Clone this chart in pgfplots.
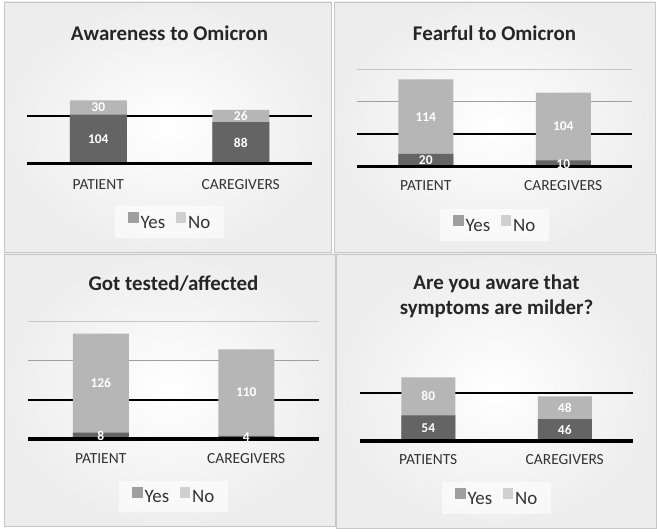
\documentclass[border=0pt]{standalone}
\usepackage{fontspec}
\setmainfont{Carlito}
\usepackage{pgfplots}
\pgfplotsset{compat=1.18}
\usepackage{pgfplotstable}

\definecolor{yescol}{RGB}{100,100,100}
\definecolor{nocol}{RGB}{182,182,182}
\definecolor{txt}{RGB}{51,51,51}

% x = category (0 patient, 1 caregivers), yes / no counts
\pgfplotstableread{
x yes no
0 104 30
1 88 26
}\aware
\pgfplotstableread{
x yes no
0 20 114
1 10 104
}\fear
\pgfplotstableread{
x yes no
0 8 126
1 4 110
}\tested
\pgfplotstableread{
x yes no
0 54 80
1 46 48
}\milder

\pgfplotsset{
  panel/.style={
    scale only axis, anchor=south west, clip=false,
    xmin=-0.5, xmax=1.5, ymin=0,
    axis line style={draw=none}, tick style={draw=none},
    xtick={0,1}, yticklabels={}, extra y tick labels={},
    xticklabel style={anchor=center, font=\fontsize{15.5}{17}\selectfont, text=txt},
    ymajorgrids, yminorgrids,
    major grid style={gray!75, line width=1.2bp},
    minor grid style={gray!45, line width=0.8bp},
    extra y tick style={grid=major, major grid style={black, line width=2bp}},
    title style={font=\fontsize{21}{25}\selectfont\bfseries, text=black!85, anchor=center, align=center},
    legend columns=2,
    legend style={anchor=center, draw=none, fill=white, fill opacity=0.6, text opacity=1,
      font=\fontsize{19}{21}\selectfont, text=txt, inner xsep=12bp, inner ysep=6bp,
      /tikz/every even column/.append style={column sep=7bp}},
    legend image code/.code={\fill[#1, draw=none] (1.5bp,0bp) rectangle (12bp,10.5bp);
      \path[draw=none, fill=none] (0bp,0bp) -- (12bp,0bp);},
  },
  nobar/.style={forget plot, ybar, bar shift=0pt, fill=nocol, draw=none},
  yesbar/.style={forget plot, ybar, bar shift=0pt, fill=yescol, draw=none},
  vals/.style={forget plot, only marks, mark=none, nodes near coords, point meta=explicit symbolic,
    every node near coord/.append style={anchor=center, text=white, font=\fontsize{13.5}{15}\selectfont\bfseries}},
}

\begin{document}
\begin{tikzpicture}
\useasboundingbox (0,0) rectangle (657bp,532bp);
\fill[white] (0,0) rectangle (657bp,532bp);
\shadedraw[shading=radial, inner color=white, outer color=gray!14, draw=gray!45] (4bp,280bp) rectangle (331bp,530bp);
\shadedraw[shading=radial, inner color=white, outer color=gray!14, draw=gray!45] (334bp,280bp) rectangle (655bp,530bp);
\shadedraw[shading=radial, inner color=white, outer color=gray!14, draw=gray!45] (4bp,6bp) rectangle (335bp,278bp);
\shadedraw[shading=radial, inner color=white, outer color=gray!14, draw=gray!45] (336bp,4bp) rectangle (656bp,278bp);

% Awareness to Omicron
\begin{axis}[panel, at={(27bp,368bp)}, width=285bp, height=95bp, ymax=200,
  ytick=\empty, minor ytick={200}, extra y ticks={100},
  xticklabels={PATIENT,CAREGIVERS}, xticklabel style={yshift=-21bp},
  title={Awareness to Omicron}, title style={at={(0.5,1.316)}},
  legend style={at={(0.5,-0.611)}}]
\addplot[nobar, bar width=57bp] table[x=x, y expr=\thisrow{yes}+\thisrow{no}] {\aware};
\addplot[yesbar, bar width=57bp] table[x=x, y=yes] {\aware};
\addplot[vals] table[x=x, y expr=\thisrow{yes}/2, meta=yes] {\aware};
\addplot[vals] table[x=x, y expr=\thisrow{yes}+\thisrow{no}/2, meta=no] {\aware};
\draw[black, line width=3bp] (rel axis cs:0,0) -- (rel axis cs:1,0);
\addlegendimage{fill=yescol}\addlegendentry{Yes}
\addlegendimage{fill=nocol}\addlegendentry{No}
\end{axis}

% Fearful to Omicron
\begin{axis}[panel, at={(357bp,365bp)}, width=275bp, height=98bp, ymax=150,
  ytick={100}, minor ytick={150}, extra y ticks={50},
  xticklabels={PATIENT,CAREGIVERS}, xticklabel style={yshift=-19bp},
  title={Fearful to Omicron}, title style={at={(0.5,1.306)}},
  legend style={at={(0.5,-0.592)}}]
\addplot[nobar, bar width=55bp] table[x=x, y expr=\thisrow{yes}+\thisrow{no}] {\fear};
\addplot[yesbar, bar width=55bp] table[x=x, y=yes] {\fear};
\addplot[vals] table[x=x, y expr=\thisrow{yes}/2, meta=yes] {\fear};
\addplot[vals] table[x=x, y expr=\thisrow{yes}+\thisrow{no}/2, meta=no] {\fear};
\draw[black, line width=3bp] (rel axis cs:0,0) -- (rel axis cs:1,0);
\addlegendimage{fill=yescol}\addlegendentry{Yes}
\addlegendimage{fill=nocol}\addlegendentry{No}
\end{axis}

% Got tested/affected
\begin{axis}[panel, at={(28bp,93bp)}, width=291bp, height=118bp, ymax=150,
  ytick={100}, minor ytick={150}, extra y ticks={50},
  xticklabels={PATIENT,CAREGIVERS}, xticklabel style={yshift=-20bp},
  title={Got tested/affected}, title style={at={(0.5,1.27)}},
  legend style={at={(0.5,-0.49)}}]
\addplot[nobar, bar width=56bp] table[x=x, y expr=\thisrow{yes}+\thisrow{no}] {\tested};
\addplot[yesbar, bar width=56bp] table[x=x, y=yes] {\tested};
\addplot[vals] table[x=x, y expr=\thisrow{yes}/2, meta=yes] {\tested};
\addplot[vals] table[x=x, y expr=\thisrow{yes}+\thisrow{no}/2, meta=no] {\tested};
\draw[black, line width=3bp] (rel axis cs:0,0) -- (rel axis cs:1,0);
\addlegendimage{fill=yescol}\addlegendentry{Yes}
\addlegendimage{fill=nocol}\addlegendentry{No}
\end{axis}

% Are you aware that symptoms are milder?
\begin{axis}[panel, at={(360bp,91bp)}, width=273bp, height=95bp, ymax=200,
  ytick=\empty, minor ytick={200}, extra y ticks={100},
  xticklabels={PATIENTS,CAREGIVERS}, xticklabel style={yshift=-19bp},
  title={Are you aware that\\symptoms are milder?}, title style={at={(0.5,1.456)}},
  legend style={at={(0.5,-0.6)}}]
\addplot[nobar, bar width=54bp] table[x=x, y expr=\thisrow{yes}+\thisrow{no}] {\milder};
\addplot[yesbar, bar width=54bp] table[x=x, y=yes] {\milder};
\addplot[vals] table[x=x, y expr=\thisrow{yes}/2, meta=yes] {\milder};
\addplot[vals] table[x=x, y expr=\thisrow{yes}+\thisrow{no}/2, meta=no] {\milder};
\draw[black, line width=3bp] (rel axis cs:0,0) -- (rel axis cs:1,0);
\addlegendimage{fill=yescol}\addlegendentry{Yes}
\addlegendimage{fill=nocol}\addlegendentry{No}
\end{axis}
\end{tikzpicture}
\end{document}
